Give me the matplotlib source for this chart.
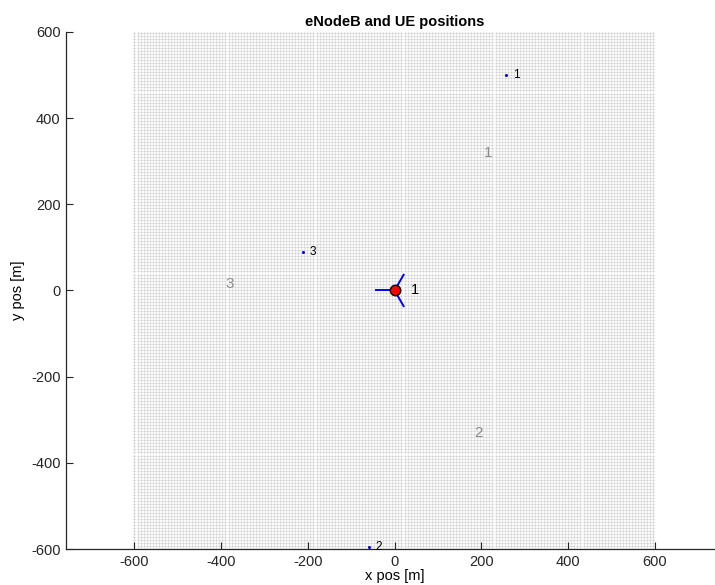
import numpy as np
import matplotlib
matplotlib.use("Agg")
import matplotlib.pyplot as plt

plt.rcParams['font.family'] = ['Liberation Sans', 'DejaVu Sans']
plt.rcParams['axes.unicode_minus'] = False

# ROI grid (pixel spacing of the simulation area)
roi_min, roi_max, roi_step = -600, 600, 7

# eNodeB
enb_x, enb_y = [0], [0]
enb_ids = ['1']
sector_angles = [60, -60, 180]   # deg
sector_len = 42
sector_label_x = [216, 193, -380]
sector_label_y = [320, -330, 15]
sector_labels = ['1', '2', '3']

# UEs
ue_x = [258, -60, -211]
ue_y = [500, -595, 89]
ue_ids = ['1', '2', '3']

fig = plt.figure(figsize=(7.15, 5.85), dpi=100)
ax = fig.add_axes([0.0923, 0.0615, 0.919, 0.884])

gx, gy = np.meshgrid(np.arange(roi_min, roi_max + 1, roi_step),
                     np.arange(roi_min, roi_max + 1, roi_step))
ax.plot(gx.ravel(), gy.ravel(), 'o', color='#cfcfcf', markersize=1.5,
        markeredgewidth=0, zorder=1)

# sector labels
for sx, sy, s in zip(sector_label_x, sector_label_y, sector_labels):
    ax.text(sx, sy, s, color='#8c8c8c', fontsize=11, ha='center', va='center', zorder=2)

# sector antennas
for a in sector_angles:
    ax.plot([enb_x[0], enb_x[0] + sector_len * np.cos(np.radians(a))],
            [enb_y[0], enb_y[0] + sector_len * np.sin(np.radians(a))],
            color='blue', linewidth=1.4, zorder=3)
ax.plot(enb_x, enb_y, 'o', markersize=7.5, markerfacecolor='red',
        markeredgecolor='black', markeredgewidth=1.0, zorder=4)
for x, y, s in zip(enb_x, enb_y, enb_ids):
    ax.text(x + 38, y, s, fontsize=10.5, ha='left', va='center', color='black', zorder=4)

# UEs
ax.plot(ue_x, ue_y, 'o', color='blue', markersize=2.2, markeredgewidth=0, zorder=4)
for x, y, s in zip(ue_x, ue_y, ue_ids):
    ax.text(x + 15, y, s, fontsize=8.5, ha='left', va='center', color='black', zorder=4)

ax.set_xlim(-758, 758)
ax.set_ylim(-600, 600)
ax.set_xticks(np.arange(-600, 601, 200))
ax.set_yticks(np.arange(-600, 601, 200))
ax.tick_params(direction='in', length=5, width=0.8, colors='#262626',
               labelsize=10.5, pad=4)
for side in ['top', 'right']:
    ax.spines[side].set_visible(False)
for side in ['left', 'bottom']:
    ax.spines[side].set_color('#262626')
    ax.spines[side].set_linewidth(0.9)

ax.set_title('eNodeB and UE positions', fontsize=10.5, fontweight='bold', pad=4)
ax.set_xlabel('x pos [m]', fontsize=10.5, labelpad=0)
ax.set_ylabel('y pos [m]', fontsize=10.5, labelpad=4)

fig.savefig('out.png', dpi=100)
